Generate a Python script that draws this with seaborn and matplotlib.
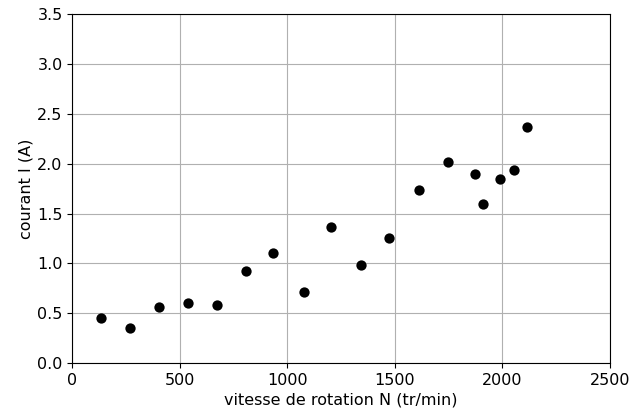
import matplotlib
matplotlib.use("Agg")
import matplotlib.pyplot as plt
import pandas as pd
import seaborn as sns

# vitesse de rotation (tr/min) et courant (A)
vitesse = [133, 269, 404, 537, 672, 808, 933, 1076, 1204, 1344,
           1471, 1612, 1748, 1873, 1911, 1987, 2052, 2114]
courant = [0.45, 0.35, 0.56, 0.60, 0.58, 0.92, 1.11, 0.71, 1.37, 0.98,
           1.26, 1.74, 2.02, 1.90, 1.60, 1.85, 1.94, 2.37]


def main():
    df = pd.DataFrame({"N": vitesse, "I": courant})

    fig = plt.figure(figsize=(6.3, 4.17), dpi=100)
    ax = fig.add_axes([0.115, 0.129, 0.853, 0.837])
    sns.scatterplot(data=df, x="N", y="I", ax=ax, color="black", s=55,
                    edgecolor="black", linewidth=0, zorder=3)
    ax.set_xlim(0, 2500)
    ax.set_ylim(0, 3.5)
    ax.set_xticks([0, 500, 1000, 1500, 2000, 2500])
    ax.set_yticks([0.0, 0.5, 1.0, 1.5, 2.0, 2.5, 3.0, 3.5])
    ax.grid(True, color="#b0b0b0", linewidth=0.8)
    ax.set_axisbelow(True)
    ax.tick_params(labelsize=11.5)
    ax.set_xlabel("vitesse de rotation N (tr/min)", fontsize=11.5, labelpad=3)
    ax.set_ylabel("courant I (A)", fontsize=11.5, labelpad=3)
    fig.savefig("out.png", dpi=100)
    plt.close(fig)


if __name__ == "__main__":
    main()
